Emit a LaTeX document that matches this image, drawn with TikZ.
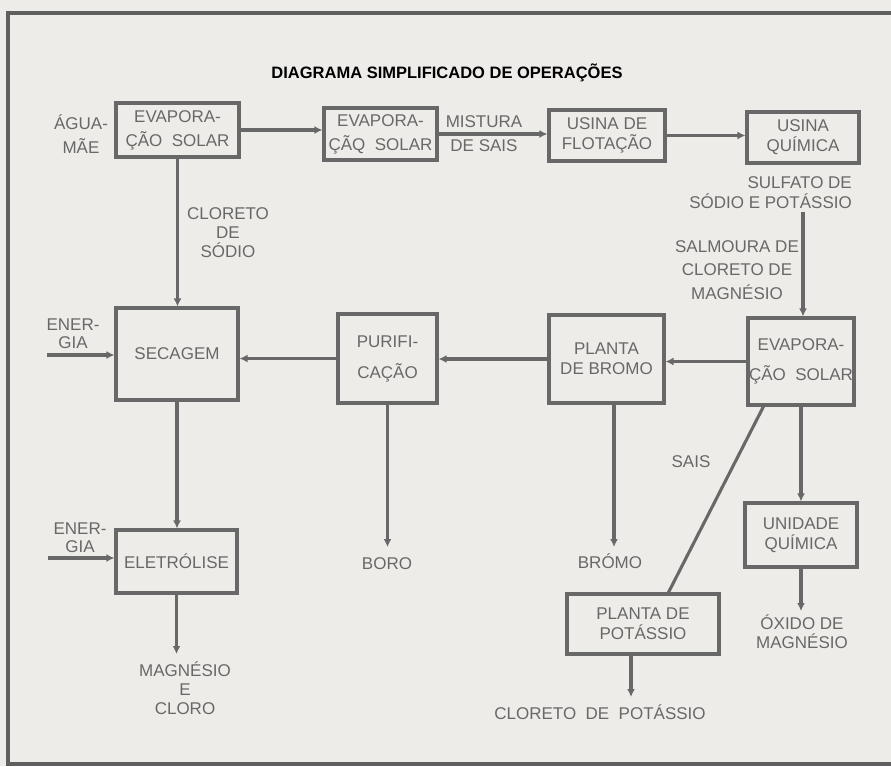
\documentclass[tikz,border=0pt]{standalone}
\usepackage{fontspec}
\setmainfont{Liberation Sans}
\usetikzlibrary{arrows.meta}
\definecolor{bg}{RGB}{237,236,233}
\definecolor{ink}{RGB}{104,104,104}
\definecolor{frame}{RGB}{95,95,95}
\newcommand\dfont{\fontsize{17}{20}\selectfont}
\begin{document}
\begin{tikzpicture}[x=1pt,y=-1pt,
  box/.style={draw=ink,line width=3.1pt,inner sep=0pt,align=center,text=ink,font=\dfont},
  lbl/.style={text=ink,align=center,font=\dfont,inner sep=0pt},
  flow/.style={draw=ink,line width=3.1pt,-{Latex[length=8pt,width=8pt]}},
  plain/.style={draw=ink,line width=3.1pt}]
\fill[bg] (0,0) rectangle (891,766);
\useasboundingbox (0,0) rectangle (891,766);
\draw[frame,line width=4pt] (891,12.5) -- (8,12.5) -- (8,764) -- (891,764);

\node[font=\bfseries\fontsize{16.5}{20}\selectfont,text=black,inner sep=0pt] (title) at (447,73) {DIAGRAMA SIMPLIFICADO DE OPERAÇÕES};

% boxes
\node[box,minimum width=123pt,minimum height=54pt] (ev1) at (177.5,130) {EVAPORA-\\[4pt]ÇÃO\ \ SOLAR};
\node[box,minimum width=113pt,minimum height=52pt] (ev2) at (380.5,134) {EVAPORA-\\[4pt]ÇÃQ\ \ SOLAR};
\node[box,minimum width=116pt,minimum height=51pt] (flot) at (607,135.5) {USINA DE\\FLOTAÇÃO};
\node[box,minimum width=112pt,minimum height=51pt] (quim) at (803,137.5) {USINA\\QUÍMICA};
\node[box,minimum width=106pt,minimum height=87pt] (ev3) at (801,361.5) {EVAPORA-\\[10pt]ÇÃO\ \ SOLAR};
\node[box,minimum width=115pt,minimum height=88pt] (bromo) at (606.5,359) {PLANTA\\DE BROMO};
\node[box,minimum width=99pt,minimum height=89pt] (purif) at (387.5,358.5) {PURIFI-\\[11pt]CAÇÃO};
\node[box,minimum width=122pt,minimum height=92pt] (sec) at (177,354) {SECAGEM};
\node[box,minimum width=121pt,minimum height=63pt] (elet) at (176.5,561.5) {ELETRÓLISE};
\node[box,minimum width=112pt,minimum height=64pt] (unid) at (801,535) {UNIDADE\\QUÍMICA};
\node[box,minimum width=152pt,minimum height=60pt] (pot) at (643,624) {PLANTA DE\\POTÁSSIO};

% labels
\node[lbl] (agua) at (81,134) {ÁGUA-\\[4pt]MÃE};
\node[lbl] (mist) at (484,134) {MISTURA\\[4pt]DE SAIS};
\node[lbl,align=right,anchor=east] (sulf) at (852,193) {SULFATO DE\\SÓDIO E POTÁSSIO};
\node[lbl] (salm) at (737,270) {SALMOURA DE\\[3.5pt]CLORETO DE\\[3.5pt]MAGNÉSIO};
\node[lbl] (clna) at (228,233) {CLORETO\\[-1pt]DE\\[-1pt]SÓDIO};
\node[lbl] (en1) at (73,334) {ENER-\\[-2pt]GIA};
\node[lbl] (en2) at (80,538) {ENER-\\[-2pt]GIA};
\node[lbl] (boro) at (387,564) {BORO};
\node[lbl] (brom) at (610,561) {BRÓMO};
\node[lbl] (sais) at (691,462) {SAIS};
\node[lbl] (mgcl) at (185,688) {MAGNÉSIO\\[-1pt]E\\[-1pt]CLORO};
\node[lbl] (oxid) at (802,632) {ÓXIDO DE\\[-1pt]MAGNÉSIO};
\node[lbl] (kcl) at (600,712) {CLORETO\ \ DE\ \ POTÁSSIO};

% free ends
\coordinate (sal) at (803,212);
\coordinate (e1) at (47,355);
\coordinate (e2) at (48,558);
\coordinate (tmg) at (176.5,654);
\coordinate (tbo) at (387.5,547);
\coordinate (tbr) at (614,547);
\coordinate (tox) at (801,611);
\coordinate (tkc) at (631,697);

% connectors
\draw[flow] (ev1.east) -- (ev1.east -| ev2.west);
\draw[flow] (ev2.east) -- (ev2.east -| flot.west);
\draw[flow] (flot.east) -- (flot.east -| quim.west);
\draw[flow] (sal) -- (sal |- ev3.north);
\draw[flow] (ev3.west) -- (ev3.west -| bromo.east);
\draw[flow] (bromo.west) -- (bromo.west -| purif.east);
\draw[flow] (purif.west) -- (purif.west -| sec.east);
\draw[flow] (ev1.south) -- (ev1.south |- sec.north);
\draw[flow] (sec.south) -- (sec.south |- elet.north);
\draw[flow] (e1) -- (e1 -| sec.west);
\draw[flow] (e2) -- (e2 -| elet.west);
\draw[flow] (elet.south) -- (tmg);
\draw[flow] (purif.south) -- (tbo);
\draw[flow] ([xshift=7.5pt]bromo.south) -- (tbr);
\draw[flow] (ev3.south) -- (ev3.south |- unid.north);
\draw[flow] (unid.south) -- (tox);
\draw[plain] ([xshift=17pt]ev3.south west) -- ([xshift=103pt]pot.north west);
\draw[flow] ([xshift=-12pt]pot.south) -- (tkc);
\end{tikzpicture}
\end{document}
